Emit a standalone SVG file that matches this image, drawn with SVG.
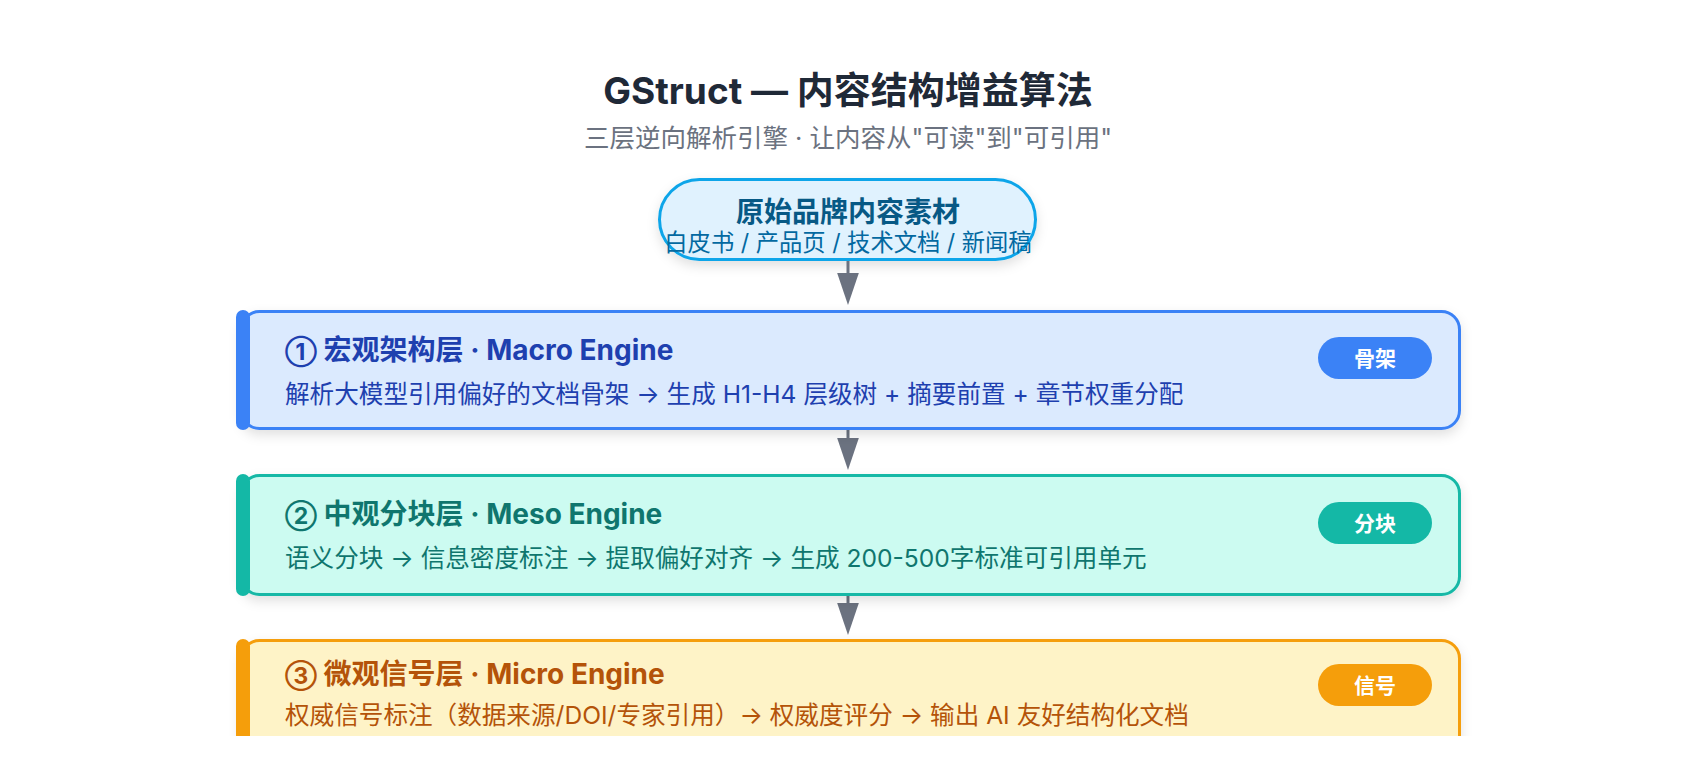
<svg xmlns="http://www.w3.org/2000/svg" width="1696" height="784" viewBox="0 0 1696 784">
  <style>
    text { font-family: 'Inter', 'Noto Sans CJK SC', sans-serif; }
    .title { font-size: 37px; font-weight: 700; fill: #1f2937; }
    .subtitle { font-size: 25.5px; fill: #6b7280; }
    .h { font-size: 28px; font-weight: 700; }
    .num { font-size: 23px; }
    .b { font-size: 24.6px; }
    .badge-t { font-size: 21px; font-weight: 700; fill: #ffffff; }
    .conn { stroke: #6b7280; stroke-width: 3; fill: none; }
  </style>
  <defs>
    <filter id="sh" x="-5%" y="-20%" width="110%" height="150%">
      <feDropShadow dx="0" dy="5" stdDeviation="6" flood-color="#000" flood-opacity="0.12"/>
    </filter>
    <marker id="ah" markerUnits="userSpaceOnUse" markerWidth="32" markerHeight="22" viewBox="0 0 31 21" refX="0" refY="10.5" orient="auto">
      <path d="M0,0 L31,10.5 L0,21 z" fill="#6b7280"/>
    </marker>
    <clipPath id="cut"><rect x="0" y="0" width="1696" height="736"/></clipPath>
  </defs>
  <rect width="1696" height="784" fill="#ffffff"/>
  <g clip-path="url(#cut)">
    <g id="header">
      <text class="title" x="848" y="104" text-anchor="middle">GStruct — 内容结构增益算法</text>
      <text class="subtitle" x="848" y="147" text-anchor="middle">三层逆向解析引擎 · 让内容从"可读"到"可引用"</text>
    </g>

    <g id="source">
      <rect x="659.5" y="179.5" width="376" height="80" rx="40" fill="#e0f2fe" stroke="#0ea5e9" stroke-width="3" filter="url(#sh)"/>
      <text x="848" y="222" text-anchor="middle" style="font-size:28px;font-weight:700;fill:#075985">原始品牌内容素材</text>
      <text x="848" y="251" text-anchor="middle" style="font-size:23.3px;fill:#0369a1">白皮书 / 产品页 / 技术文档 / 新闻稿</text>
    </g>

    <g id="connectors">
      <line class="conn" x1="848" y1="261" x2="848" y2="273" marker-end="url(#ah)"/>
      <line class="conn" x1="848" y1="429" x2="848" y2="438" marker-end="url(#ah)"/>
      <line class="conn" x1="848" y1="595" x2="848" y2="603" marker-end="url(#ah)"/>
    </g>

    <g id="macro">
      <rect x="241.5" y="311.5" width="1218" height="117" rx="18" fill="#dbeafe" stroke="#3b82f6" stroke-width="3" filter="url(#sh)"/>
      <rect x="236" y="310" width="14" height="120" rx="7" fill="#3b82f6"/>
      <text class="h" x="285" y="360" fill="#1e40af"><tspan class="num">①</tspan> 宏观架构层 · Macro Engine</text>
      <text class="b" x="285" y="403" fill="#1e40af">解析大模型引用偏好的文档骨架 → 生成 H1-H4 层级树 + 摘要前置 + 章节权重分配</text>
      <rect x="1318" y="337" width="114" height="42" rx="21" fill="#3b82f6"/>
      <text class="badge-t" x="1375" y="365.5" text-anchor="middle">骨架</text>
    </g>

    <g id="meso">
      <rect x="241.5" y="475.5" width="1218" height="119" rx="18" fill="#ccfbf1" stroke="#14b8a6" stroke-width="3" filter="url(#sh)"/>
      <rect x="236" y="474" width="14" height="122" rx="7" fill="#14b8a6"/>
      <text class="h" x="285" y="524" fill="#0f766e"><tspan class="num">②</tspan> 中观分块层 · Meso Engine</text>
      <text class="b" x="285" y="567" fill="#0f766e">语义分块 → 信息密度标注 → 提取偏好对齐 → 生成 200-500字标准可引用单元</text>
      <rect x="1318" y="502" width="114" height="42" rx="21" fill="#14b8a6"/>
      <text class="badge-t" x="1375" y="530.5" text-anchor="middle">分块</text>
    </g>

    <g id="micro">
      <rect x="241.5" y="640.5" width="1218" height="119" rx="18" fill="#fef3c7" stroke="#f59e0b" stroke-width="3" filter="url(#sh)"/>
      <rect x="236" y="639" width="14" height="122" rx="7" fill="#f59e0b"/>
      <text class="h" x="285" y="684" fill="#b45309"><tspan class="num">③</tspan> 微观信号层 · Micro Engine</text>
      <text class="b" x="285" y="724" fill="#b45309">权威信号标注（数据来源/DOI/专家引用）→ 权威度评分 → 输出 AI 友好结构化文档</text>
      <rect x="1318" y="664" width="114" height="42" rx="21" fill="#f59e0b"/>
      <text class="badge-t" x="1375" y="692.5" text-anchor="middle">信号</text>
    </g>
  </g>
</svg>
